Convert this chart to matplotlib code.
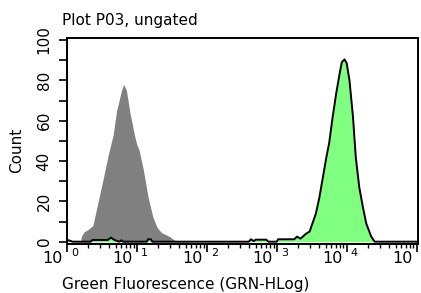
import numpy as np
import matplotlib
matplotlib.use('Agg')
import matplotlib.pyplot as plt
from matplotlib import transforms

# histogram outlines, x in decades of GRN-HLog, y in counts
grey_decade = [0.19, 0.21, 0.25, 0.30, 0.37, 0.44, 0.51, 0.59, 0.66, 0.71, 0.78,
               0.81, 0.85, 0.90, 0.97, 1.00, 1.03, 1.09, 1.16, 1.23, 1.29, 1.35,
               1.47, 1.54, 1.72, 1.75]
grey_count = [0, 3, 5, 6, 8, 19, 30, 43, 53, 65, 75,
              78, 75, 64, 52, 48, 45.5, 36, 22, 12, 7, 4.5,
              2.5, 0.6, 0.5, 0]

green_decade = [0.0, 0.01, 0.04, 0.08, 0.34, 0.36, 0.58, 0.63, 0.68, 0.75, 0.78,
                0.80, 1.14, 1.16, 1.20, 1.22, 2.60, 2.63, 2.67, 2.70, 2.75, 2.85,
                2.88, 3.00, 3.02, 3.25, 3.29, 3.34, 3.42, 3.47, 3.51, 3.56, 3.61,
                3.66, 3.71, 3.75, 3.80, 3.85, 3.90, 3.93, 3.97, 4.00, 4.04, 4.09,
                4.13, 4.18, 4.23, 4.28, 4.35, 4.40, 5.0]
green_count = [0, 0.8, 0.5, 0, 0, 0.8, 0.8, 2, 0.8, 0, 0.7,
               0, 0, 1.2, 1.2, 0, 0, 1.2, 0.3, 1, 1, 1,
               0, 0, 1.2, 1.2, 2.5, 1.5, 4, 5, 9, 14, 22,
               32, 42, 49, 62, 73.5, 83.5, 89, 90.4, 88.5, 80, 62,
               42, 27, 17.5, 9, 2.6, 0, 0]

fig = plt.figure(figsize=(4.21, 2.93), dpi=100)
ax = fig.add_axes([67 / 421, 1 - 243.5 / 293, 351 / 421, 205.5 / 293])

gx = 10.0 ** np.array(grey_decade)
ax.fill_between(gx, grey_count, 0, color='#808080', linewidth=0, zorder=2)

fx = 10.0 ** np.array(green_decade)
ax.fill_between(fx, green_count, 0, color='#80ff80', linewidth=0, zorder=3)
ax.plot(fx, green_count, color='black', lw=1.4, zorder=4)

ax.set_xscale('log')
ax.set_xlim(1, 10 ** 5.02)
ax.set_ylim(-0.9, 101)

ax.set_yticks(np.arange(0, 101, 10))
ax.set_yticklabels([str(v) if v % 20 == 0 else '' for v in range(0, 101, 10)],
                   rotation=90, va='center', fontsize=11)
ax.tick_params(axis='y', length=6, width=1.2, pad=5)

ax.set_xticks([10.0 ** k for k in range(6)])
ax.set_xticklabels([])
ax.set_xticks([m * 10.0 ** k for k in range(5) for m in range(2, 10)], minor=True)
ax.tick_params(axis='x', which='major', length=6, width=1.2)
ax.tick_params(axis='x', which='minor', length=3, width=1.0)

for sp in ax.spines.values():
    sp.set_linewidth(1.4)

# x tick labels drawn as "10" left of the tick and the exponent right of it
base = transforms.blended_transform_factory(ax.transData, ax.transAxes)
for k in range(6):
    t1 = base + transforms.ScaledTranslation(-4 / 100, -15 / 100, fig.dpi_scale_trans)
    t2 = base + transforms.ScaledTranslation(4 / 100, -9 / 100, fig.dpi_scale_trans)
    ax.text(10.0 ** k, 0, '10', transform=t1, ha='right', va='center', fontsize=11.5)
    ax.text(10.0 ** k, 0, str(k), transform=t2, ha='left', va='center', fontsize=8)

fig.text(62 / 421, 1 - 21 / 293, 'Plot P03, ungated', ha='left', va='center', fontsize=11)
fig.text(17 / 421, 1 - 150 / 293, 'Count', rotation=90, ha='center', va='center', fontsize=11)
fig.text(62 / 421, 1 - 284 / 293, 'Green Fluorescence (GRN-HLog)', ha='left', va='center',
         fontsize=11)

fig.savefig('out.png', dpi=100)
